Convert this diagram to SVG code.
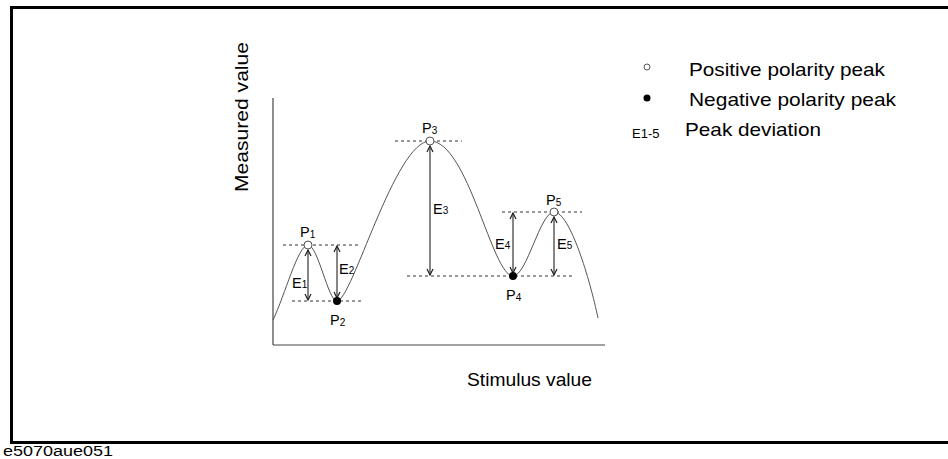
<svg xmlns="http://www.w3.org/2000/svg" width="948" height="459" viewBox="0 0 948 459">
<style>
text{font-family:"Liberation Sans",Arial,sans-serif;fill:#000}
.lbl{font-size:19px}
.pl{font-size:14.5px}
.sub{font-size:10px}
.dash{stroke:#333;stroke-width:1;stroke-dasharray:3,3;fill:none}
.arr{stroke:#444;stroke-width:1.3;fill:none;marker-start:url(#ah);marker-end:url(#ah)}
.curve{stroke:#555;stroke-width:1;fill:none}
.open{fill:#fff;stroke:#555;stroke-width:1}
.fill{fill:#000}
</style>
<defs>
<marker id="ah" viewBox="0 0 8 8" refX="7" refY="4" markerWidth="8" markerHeight="8" markerUnits="userSpaceOnUse" orient="auto-start-reverse">
<path d="M1,1 L7,4 L1,7" fill="none" stroke="#222" stroke-width="1.2"/>
</marker>
</defs>
<rect x="11.5" y="7.5" width="940" height="435" fill="none" stroke="#000" stroke-width="3"/>
<text x="3" y="456" style="font-size:14px" textLength="110" lengthAdjust="spacingAndGlyphs">e5070aue051</text>
<g id="axes">
<line x1="273" y1="98" x2="273" y2="345" stroke="#444" stroke-width="1.2"/>
<line x1="273" y1="345" x2="605" y2="345" stroke="#444" stroke-width="1.2"/>
<text class="lbl" transform="translate(248,192) rotate(-90)" textLength="150" lengthAdjust="spacingAndGlyphs">Measured value</text>
<text class="lbl" x="467" y="386" textLength="125" lengthAdjust="spacingAndGlyphs">Stimulus value</text>
</g>
<g id="curve">
<path class="curve" d="M273,320 C285,295 298,245 308,245 C318,245 328,301 337,301 C352,301 395,141 430,141 C468,141 492,276 513,276 C527,276 540,212 554,212 C570,212 590,280 598,318"/>
</g>
<g id="connectors">
<line class="dash" x1="283" y1="245" x2="358" y2="245"/>
<line class="dash" x1="292" y1="301" x2="362" y2="301"/>
<line class="dash" x1="395" y1="141" x2="462" y2="141"/>
<line class="dash" x1="407" y1="276" x2="572" y2="276"/>
<line class="dash" x1="502" y1="212" x2="582" y2="212"/>
<line class="arr" x1="308" y1="250" x2="308" y2="300"/>
<line class="arr" x1="337" y1="246" x2="337" y2="298"/>
<line class="arr" x1="430" y1="146" x2="430" y2="275"/>
<line class="arr" x1="513" y1="213" x2="513" y2="273"/>
<line class="arr" x1="554" y1="217" x2="554" y2="275"/>
</g>
<g id="p1"><circle class="open" cx="308" cy="245" r="4"/><text class="pl" x="300" y="237">P<tspan class="sub" dy="1">1</tspan></text></g>
<g id="p2"><circle class="fill" cx="337" cy="301" r="4"/><text class="pl" x="330" y="325">P<tspan class="sub" dy="1">2</tspan></text></g>
<g id="p3"><circle class="open" cx="430" cy="141" r="4"/><text class="pl" x="422" y="133">P<tspan class="sub" dy="1">3</tspan></text></g>
<g id="p4"><circle class="fill" cx="513" cy="276" r="4"/><text class="pl" x="506" y="300">P<tspan class="sub" dy="1">4</tspan></text></g>
<g id="p5"><circle class="open" cx="554" cy="212" r="4"/><text class="pl" x="546" y="205">P<tspan class="sub" dy="1">5</tspan></text></g>
<g id="e-labels">
<text class="pl" x="292" y="288">E<tspan class="sub" dy="0">1</tspan></text>
<text class="pl" x="339" y="274">E<tspan class="sub" dy="0">2</tspan></text>
<text class="pl" x="433" y="214">E<tspan class="sub" dy="0">3</tspan></text>
<text class="pl" x="495" y="249">E<tspan class="sub" dy="0">4</tspan></text>
<text class="pl" x="557" y="249">E<tspan class="sub" dy="0">5</tspan></text>
</g>
<g id="legend">
<circle cx="647" cy="67" r="3" fill="#fff" stroke="#555" stroke-width="1"/>
<text class="lbl" x="689" y="76" textLength="196" lengthAdjust="spacingAndGlyphs">Positive polarity peak</text>
<circle cx="647" cy="98" r="3.5" fill="#000"/>
<text class="lbl" x="689" y="106" textLength="207" lengthAdjust="spacingAndGlyphs">Negative polarity peak</text>
<text x="632" y="138" style="font-size:13px">E1-5</text>
<text class="lbl" x="685" y="136" textLength="136" lengthAdjust="spacingAndGlyphs">Peak deviation</text>
</g>
</svg>
